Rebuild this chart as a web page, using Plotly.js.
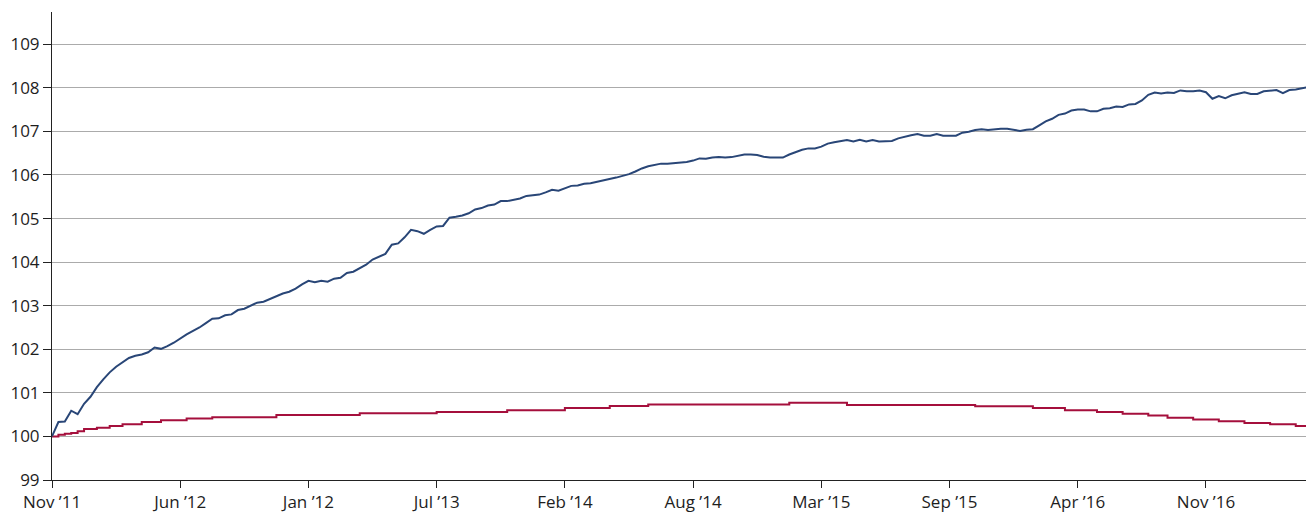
<!DOCTYPE html>
<html>
<head>
<meta charset="utf-8">
<script src="https://cdn.plot.ly/plotly-3.0.1.min.js"></script>
<style>
  html, body { margin: 0; padding: 0; background: #fff; }
  #chart { width: 1306px; height: 516px; }
</style>
</head>
<body>
<div id="chart"></div>
<script>
// Tick labels (evenly spaced on the category-like time axis)
const tickLabels = ["Nov \u201911", "Jun \u201912", "Jan \u201912", "Jul \u201913", "Feb \u201914",
                    "Aug \u201914", "Mar \u201915", "Sep \u201915", "Apr \u201916", "Nov \u201916"];
const pointsPerTick = 20;

// Series 1 (dark blue) – index level, sampled evenly along the axis
const seriesBlue = [
  100.00,100.33,100.34,100.59,100.51,100.75,100.91,101.13,101.31,101.47,
  101.60,101.71,101.80,101.85,101.88,101.93,102.04,102.01,102.07,102.15,
  102.25,102.34,102.42,102.50,102.60,102.70,102.71,102.78,102.80,102.90,
  102.93,103.00,103.07,103.09,103.15,103.21,103.28,103.32,103.39,103.49,
  103.57,103.54,103.57,103.55,103.62,103.64,103.75,103.78,103.87,103.94,
  104.06,104.12,104.19,104.40,104.43,104.57,104.74,104.71,104.65,104.74,
  104.82,104.83,105.02,105.04,105.07,105.12,105.21,105.24,105.30,105.32,
  105.40,105.40,105.43,105.46,105.52,105.53,105.55,105.60,105.66,105.64,
  105.70,105.75,105.76,105.80,105.81,105.84,105.88,105.91,105.94,105.98,
  106.02,106.08,106.15,106.20,106.23,106.26,106.26,106.27,106.28,106.30,
  106.33,106.38,106.37,106.40,106.41,106.40,106.41,106.44,106.47,106.47,
  106.46,106.42,106.40,106.40,106.40,106.47,106.52,106.58,106.61,106.61,
  106.65,106.72,106.75,106.78,106.80,106.77,106.81,106.77,106.80,106.77,
  106.78,106.78,106.84,106.88,106.91,106.94,106.90,106.90,106.94,106.90,
  106.90,106.90,106.97,106.99,107.03,107.05,107.03,107.05,107.06,107.06,
  107.04,107.01,107.04,107.05,107.14,107.23,107.29,107.38,107.41,107.48,
  107.50,107.50,107.46,107.46,107.52,107.53,107.57,107.56,107.62,107.63,
  107.71,107.84,107.89,107.87,107.89,107.88,107.94,107.92,107.92,107.94,
  107.90,107.75,107.81,107.76,107.83,107.86,107.90,107.86,107.86,107.92,
  107.94,107.95,107.88,107.95,107.96,107.99,108.02
];

// Series 2 (crimson) – stepped index level, same sampling
const seriesRed = [
  100.00,100.04,100.06,100.08,100.12,100.17,100.17,100.20,100.20,100.24,
  100.24,100.28,100.28,100.28,100.33,100.33,100.33,100.37,100.37,100.37,
  100.37,100.41,100.41,100.41,100.41,100.44,100.44,100.44,100.44,100.44,
  100.44,100.44,100.44,100.44,100.44,100.49,100.49,100.49,100.49,100.49,
  100.49,100.49,100.49,100.49,100.49,100.49,100.49,100.49,100.53,100.53,
  100.53,100.53,100.53,100.53,100.53,100.53,100.53,100.53,100.53,100.53,
  100.56,100.56,100.56,100.56,100.56,100.56,100.56,100.56,100.56,100.56,
  100.56,100.60,100.60,100.60,100.60,100.60,100.60,100.60,100.60,100.60,
  100.65,100.65,100.65,100.65,100.65,100.65,100.65,100.70,100.70,100.70,
  100.70,100.70,100.70,100.73,100.73,100.73,100.73,100.73,100.73,100.73,
  100.73,100.73,100.73,100.73,100.73,100.73,100.73,100.73,100.73,100.73,
  100.73,100.73,100.73,100.73,100.73,100.77,100.77,100.77,100.77,100.77,
  100.77,100.77,100.77,100.77,100.72,100.72,100.72,100.72,100.72,100.72,
  100.72,100.72,100.72,100.72,100.72,100.72,100.72,100.72,100.72,100.72,
  100.72,100.72,100.72,100.72,100.69,100.69,100.69,100.69,100.69,100.69,
  100.69,100.69,100.69,100.65,100.65,100.65,100.65,100.65,100.60,100.60,
  100.60,100.60,100.60,100.56,100.56,100.56,100.56,100.52,100.52,100.52,
  100.52,100.48,100.48,100.48,100.43,100.43,100.43,100.43,100.39,100.39,
  100.39,100.39,100.35,100.35,100.35,100.35,100.31,100.31,100.31,100.31,
  100.28,100.28,100.28,100.28,100.24,100.24,100.24
];

const xIdx = seriesBlue.map((_, i) => i);
const tickVals = tickLabels.map((_, k) => k * pointsPerTick);

const traces = [
  {
    x: xIdx, y: seriesRed, type: 'scatter', mode: 'lines',
    line: { color: '#a50f3c', width: 2, shape: 'hv' },
    hoverinfo: 'skip'
  },
  {
    x: xIdx, y: seriesBlue, type: 'scatter', mode: 'lines',
    line: { color: '#294677', width: 2 },
    hoverinfo: 'skip'
  }
];

const font = { family: 'Open Sans, Noto Sans, sans-serif', size: 17, color: '#1e1e1e' };

const layout = {
  width: 1306, height: 516,
  margin: { l: 52, r: 0, t: 12, b: 36, pad: 0 },
  paper_bgcolor: '#fff', plot_bgcolor: '#fff',
  showlegend: false,
  font: font,
  xaxis: {
    range: [0, 195.6],
    tickmode: 'array', tickvals: tickVals, ticktext: tickLabels,
    ticks: 'outside', ticklen: 7, tickcolor: '#222', tickwidth: 1,
    showline: true, linecolor: '#222', linewidth: 1,
    showgrid: false, zeroline: false,
    tickfont: font
  },
  yaxis: {
    range: [99, 109.74],
    tickmode: 'array', tickvals: [99,100,101,102,103,104,105,106,107,108,109],
    ticks: 'outside', ticklen: 8, tickcolor: '#222', tickwidth: 1,
    showline: true, linecolor: '#222', linewidth: 1,
    showgrid: true, gridcolor: '#ababab', gridwidth: 1,
    zeroline: false,
    tickfont: font
  }
};

Plotly.newPlot('chart', traces, layout, { staticPlot: true, displayModeBar: false });
</script>
</body>
</html>
